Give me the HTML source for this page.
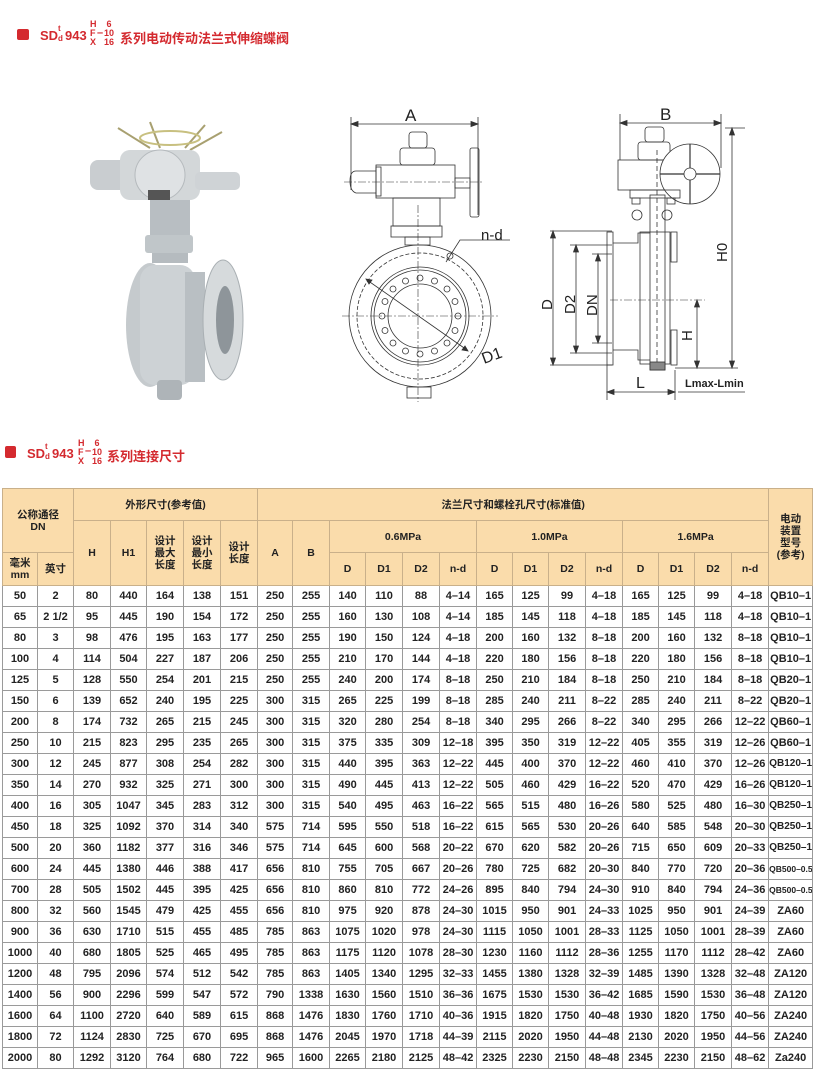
<!DOCTYPE html>
<html><head><meta charset="utf-8"><style>
body{margin:0;width:814px;height:1092px;background:#fff;position:relative;overflow:hidden;font-family:"Liberation Sans","Noto Sans CJK SC",sans-serif;}
.a{position:absolute;white-space:nowrap;}
.red{color:#d42a2f;font-weight:bold;}
table{position:absolute;left:2px;top:488px;border-collapse:collapse;table-layout:fixed;width:810px;}
td{border:1px solid #9a9a9a;text-align:center;padding:0;font-size:11px;font-weight:bold;color:#222;height:20px;line-height:12px;overflow:hidden;white-space:nowrap;}
thead td{background:#fadcab;border-color:#c9b08a;font-size:10.5px;white-space:normal;}
</style></head><body>

<div class="a" style="left:17px;top:29px;width:12px;height:11px;background:#d42a2f;border-radius:2px"></div>
<div class="a red" style="left:40px;top:28px;font-size:13px">SD</div>
<div class="a red" style="left:58px;top:24px;font-size:8px">t</div>
<div class="a red" style="left:58px;top:34px;font-size:8px">d</div>
<div class="a red" style="left:65px;top:28px;font-size:13px">943</div>
<div class="a red" style="left:90px;top:20px;font-size:9px;line-height:9px">H<br>F<br>X</div>
<div class="a red" style="left:97px;top:27px;font-size:11px">–</div>
<div class="a red" style="left:104px;top:20px;font-size:9px;line-height:9px;text-align:center">6<br>10<br>16</div>
<div class="a red" style="left:120px;top:28px;font-size:13px">系列电动传动法兰式伸缩蝶阀</div>

<div class="a" style="left:5px;top:446px;width:11px;height:12px;background:#d42a2f;border-radius:2px"></div>
<div class="a red" style="left:27px;top:446px;font-size:13px">SD</div>
<div class="a red" style="left:45px;top:442px;font-size:8px">t</div>
<div class="a red" style="left:45px;top:452px;font-size:8px">d</div>
<div class="a red" style="left:52px;top:446px;font-size:13px">943</div>
<div class="a red" style="left:78px;top:439px;font-size:9px;line-height:9px">H<br>F<br>X</div>
<div class="a red" style="left:85px;top:445px;font-size:11px">–</div>
<div class="a red" style="left:92px;top:439px;font-size:9px;line-height:9px;text-align:center">6<br>10<br>16</div>
<div class="a red" style="left:107px;top:446px;font-size:13px">系列连接尺寸</div>

<!-- photo -->
<svg class="a" style="left:0;top:0" width="814" height="430">
<g stroke="#a8a070" stroke-width="2"><line x1="118" y1="128" x2="150" y2="148"/><line x1="150" y1="122" x2="160" y2="148"/><line x1="205" y1="125" x2="185" y2="148"/><line x1="222" y1="132" x2="190" y2="150"/></g>
<ellipse cx="170" cy="138" rx="30" ry="7" fill="none" stroke="#c8c080" stroke-width="2"/>
<rect x="90" y="160" width="40" height="30" rx="8" fill="#c9cdd0"/>
<rect x="120" y="150" width="80" height="50" rx="10" fill="#d3d7d9"/>
<circle cx="160" cy="175" r="25" fill="#dfe2e4" stroke="#b5babd"/>
<rect x="195" y="172" width="45" height="18" rx="5" fill="#cfd3d6"/>
<rect x="148" y="190" width="22" height="10" fill="#555"/>
<rect x="150" y="200" width="40" height="40" fill="#b8bec2"/>
<rect x="145" y="235" width="48" height="18" rx="3" fill="#c0c6c9"/>
<rect x="152" y="253" width="36" height="10" fill="#b5bbbf"/>
<ellipse cx="150" cy="325" rx="24" ry="62" fill="#c5cacd"/>
<rect x="140" y="265" width="55" height="120" rx="15" fill="#cdd2d5"/>
<rect x="185" y="272" width="20" height="110" fill="#b9bfc3"/>
<ellipse cx="223" cy="320" rx="20" ry="60" fill="#d6dadc" stroke="#a9afb3"/>
<ellipse cx="225" cy="320" rx="9" ry="34" fill="#8e959a"/>
<rect x="157" y="380" width="25" height="20" rx="4" fill="#aeb4b8"/>
</svg>

<!-- front view -->
<svg class="a" style="left:0;top:0" width="814" height="430" fill="none" stroke="#333" stroke-width="0.8">
<line x1="351" y1="117" x2="351" y2="190"/><line x1="478" y1="117" x2="478" y2="215"/>
<line x1="354" y1="124" x2="475" y2="124"/>
<path d="M351 124 l7 -2.5 v5z M478 124 l-7 -2.5 v5z" fill="#333"/>
<text x="405" y="121" font-size="17" fill="#222" stroke="none" font-family="Liberation Sans">A</text>
<rect x="409" y="132" width="18" height="16" rx="3"/>
<rect x="400" y="148" width="35" height="17" rx="3"/>
<rect x="376" y="165" width="79" height="33"/>
<rect x="376" y="167" width="5" height="29"/>
<path d="M376 171 h-20 q-6 0 -6 10 q0 10 6 12 h20"/>
<rect x="455" y="178" width="15" height="10"/>
<rect x="470" y="148" width="9" height="69" rx="2"/>
<rect x="393" y="198" width="47" height="28"/>
<rect x="391" y="226" width="51" height="11"/>
<rect x="405" y="237" width="25" height="8"/>
<circle cx="420" cy="316" r="71"/>
<circle cx="420" cy="316" r="63" stroke-dasharray="4 2"/>
<circle cx="420" cy="316" r="49"/><circle cx="420" cy="316" r="46"/>
<circle cx="420" cy="316" r="32"/>
<g id="bh">
<circle cx="420" cy="278" r="3"/><circle cx="434.5" cy="281" r="3"/><circle cx="447" cy="289" r="3"/><circle cx="455" cy="301.5" r="3"/><circle cx="458" cy="316" r="3"/><circle cx="455" cy="330.5" r="3"/><circle cx="447" cy="343" r="3"/><circle cx="434.5" cy="351" r="3"/><circle cx="420" cy="354" r="3"/><circle cx="405.5" cy="351" r="3"/><circle cx="393" cy="343" r="3"/><circle cx="385" cy="330.5" r="3"/><circle cx="382" cy="316" r="3"/><circle cx="385" cy="301.5" r="3"/><circle cx="393" cy="289" r="3"/><circle cx="405.5" cy="281" r="3"/>
</g>
<rect x="407" y="387" width="24" height="11"/>
<line x1="418" y1="205" x2="418" y2="402" stroke-dasharray="8 2 2 2" stroke-width="0.6"/>
<line x1="342" y1="316" x2="498" y2="316" stroke-dasharray="8 2 2 2" stroke-width="0.6"/>
<line x1="344" y1="182" x2="482" y2="182" stroke-dasharray="8 2 2 2" stroke-width="0.6"/>
<path d="M510 240 h-50 l-14 22"/>
<circle cx="450" cy="256" r="3"/>
<text x="481" y="240" font-size="15" fill="#222" stroke="none" font-family="Liberation Sans">n-d</text>
<line x1="367" y1="280" x2="467" y2="350"/>
<path d="M366 279 l6 1 l-3 4z M468 351 l-6 -1 l3 -4z" fill="#333"/>
<text x="484" y="364" font-size="16" fill="#222" stroke="none" font-family="Liberation Sans" transform="rotate(-20 484 364)">D1</text>
</svg>

<!-- side view -->
<svg class="a" style="left:0;top:0" width="814" height="430" fill="none" stroke="#333" stroke-width="0.8">
<line x1="620" y1="114" x2="620" y2="160"/><line x1="721" y1="114" x2="721" y2="168"/>
<line x1="622" y1="123" x2="719" y2="123"/>
<path d="M620 123 l7 -2.5 v5z M721 123 l-7 -2.5 v5z" fill="#333"/>
<text x="660" y="120" font-size="17" fill="#222" stroke="none" font-family="Liberation Sans">B</text>
<line x1="725" y1="128" x2="745" y2="128"/>
<line x1="732" y1="130" x2="732" y2="366"/>
<path d="M732 128 l-2.5 7 h5z M732 368 l-2.5 -7 h5z" fill="#333"/>
<text x="727" y="262" font-size="15" fill="#222" stroke="none" font-family="Liberation Sans" transform="rotate(-90 727 262)">H0</text>
<rect x="645" y="127" width="19" height="15" rx="3"/>
<rect x="638" y="142" width="32" height="18" rx="3"/>
<rect x="618" y="160" width="72" height="30"/>
<circle cx="690" cy="174" r="30" fill="#fff"/>
<circle cx="690" cy="174" r="6"/>
<g stroke-width="1.2"><line x1="690" y1="144" x2="690" y2="168"/><line x1="660" y1="174" x2="684" y2="174"/><line x1="720" y1="174" x2="696" y2="174"/><line x1="690" y1="180" x2="690" y2="204"/></g>
<rect x="630" y="190" width="50" height="8"/>
<rect x="632" y="198" width="8" height="6"/><rect x="667" y="198" width="8" height="6"/>
<circle cx="637" cy="215" r="5"/><circle cx="667" cy="215" r="5"/>
<rect x="607" y="232" width="6" height="133"/>
<path d="M613 243 h25 v-10 h12 M613 350 h25 v10 h12"/>
<rect x="640" y="232" width="30" height="132"/>
<rect x="650" y="195" width="15" height="175"/>
<line x1="657" y1="150" x2="657" y2="370" stroke-dasharray="5 3"/>
<rect x="671" y="232" width="6" height="30"/><rect x="671" y="330" width="6" height="35"/>
<rect x="650" y="362" width="15" height="8" fill="#888"/>
<line x1="610" y1="300" x2="705" y2="300" stroke-dasharray="8 2 2 2" stroke-width="0.6"/>
<line x1="550" y1="231" x2="612" y2="231"/><line x1="550" y1="365" x2="612" y2="365"/>
<line x1="553" y1="233" x2="553" y2="363"/>
<path d="M553 231 l-2.5 7 h5z M553 365 l-2.5 -7 h5z" fill="#333"/>
<line x1="570" y1="245" x2="612" y2="245"/><line x1="570" y1="353" x2="612" y2="353"/>
<line x1="576" y1="247" x2="576" y2="351"/>
<path d="M576 245 l-2.5 7 h5z M576 353 l-2.5 -7 h5z" fill="#333"/>
<line x1="592" y1="254" x2="612" y2="254"/><line x1="592" y1="343" x2="612" y2="343"/>
<line x1="598" y1="256" x2="598" y2="341"/>
<path d="M598 254 l-2.5 7 h5z M598 343 l-2.5 -7 h5z" fill="#333"/>
<text x="552" y="310" font-size="15" fill="#222" stroke="none" font-family="Liberation Sans" transform="rotate(-90 552 310)">D</text>
<text x="575" y="314" font-size="15" fill="#222" stroke="none" font-family="Liberation Sans" transform="rotate(-90 575 314)">D2</text>
<text x="597" y="316" font-size="15" fill="#222" stroke="none" font-family="Liberation Sans" transform="rotate(-90 597 316)">DN</text>
<line x1="697" y1="302" x2="697" y2="366"/>
<path d="M697 300 l-2.5 7 h5z M697 368 l-2.5 -7 h5z" fill="#333"/>
<line x1="675" y1="368" x2="738" y2="368"/>
<text x="692" y="341" font-size="15" fill="#222" stroke="none" font-family="Liberation Sans" transform="rotate(-90 692 341)">H</text>
<line x1="607" y1="365" x2="607" y2="400"/><line x1="675" y1="370" x2="675" y2="400"/>
<line x1="609" y1="392" x2="673" y2="392"/>
<path d="M607 392 l7 -2.5 v5z M675 392 l-7 -2.5 v5z" fill="#333"/>
<line x1="678" y1="392" x2="745" y2="392"/>
<text x="636" y="388" font-size="16" fill="#222" stroke="none" font-family="Liberation Sans">L</text>
<text x="685" y="387" font-size="11" font-weight="bold" fill="#222" stroke="none" font-family="Liberation Sans">Lmax-Lmin</text>
</svg>

<table>
<colgroup><col style="width:35px"><col style="width:36px"><col style="width:37px"><col style="width:36px"><col style="width:37px"><col style="width:37px"><col style="width:37px"><col style="width:35px"><col style="width:37px"><col style="width:36px"><col style="width:37px"><col style="width:37px"><col style="width:37px"><col style="width:36px"><col style="width:36px"><col style="width:37px"><col style="width:37px"><col style="width:36px"><col style="width:36px"><col style="width:37px"><col style="width:37px"><col style="width:44px"></colgroup>
<thead>
<tr style="height:32px"><td colspan="2" rowspan="2">公称通径<br>DN</td><td colspan="5">外形尺寸(参考值)</td><td colspan="14">法兰尺寸和螺栓孔尺寸(标准值)</td><td rowspan="3">电动<br>装置<br>型号<br>(参考)</td></tr>
<tr style="height:32px"><td rowspan="2">H</td><td rowspan="2">H1</td><td rowspan="2">设计<br>最大<br>长度</td><td rowspan="2">设计<br>最小<br>长度</td><td rowspan="2">设计<br>长度</td><td rowspan="2">A</td><td rowspan="2">B</td><td colspan="4">0.6MPa</td><td colspan="4">1.0MPa</td><td colspan="4">1.6MPa</td></tr>
<tr style="height:33px"><td>毫米<br>mm</td><td>英寸</td><td>D</td><td>D1</td><td>D2</td><td>n-d</td><td>D</td><td>D1</td><td>D2</td><td>n-d</td><td>D</td><td>D1</td><td>D2</td><td>n-d</td></tr>
</thead>
<tbody>
<tr><td>50</td><td>2</td><td>80</td><td>440</td><td>164</td><td>138</td><td>151</td><td>250</td><td>255</td><td>140</td><td>110</td><td>88</td><td>4–14</td><td>165</td><td>125</td><td>99</td><td>4–18</td><td>165</td><td>125</td><td>99</td><td>4–18</td><td>QB10–1</td></tr>
<tr><td>65</td><td>2 1/2</td><td>95</td><td>445</td><td>190</td><td>154</td><td>172</td><td>250</td><td>255</td><td>160</td><td>130</td><td>108</td><td>4–14</td><td>185</td><td>145</td><td>118</td><td>4–18</td><td>185</td><td>145</td><td>118</td><td>4–18</td><td>QB10–1</td></tr>
<tr><td>80</td><td>3</td><td>98</td><td>476</td><td>195</td><td>163</td><td>177</td><td>250</td><td>255</td><td>190</td><td>150</td><td>124</td><td>4–18</td><td>200</td><td>160</td><td>132</td><td>8–18</td><td>200</td><td>160</td><td>132</td><td>8–18</td><td>QB10–1</td></tr>
<tr><td>100</td><td>4</td><td>114</td><td>504</td><td>227</td><td>187</td><td>206</td><td>250</td><td>255</td><td>210</td><td>170</td><td>144</td><td>4–18</td><td>220</td><td>180</td><td>156</td><td>8–18</td><td>220</td><td>180</td><td>156</td><td>8–18</td><td>QB10–1</td></tr>
<tr><td>125</td><td>5</td><td>128</td><td>550</td><td>254</td><td>201</td><td>215</td><td>250</td><td>255</td><td>240</td><td>200</td><td>174</td><td>8–18</td><td>250</td><td>210</td><td>184</td><td>8–18</td><td>250</td><td>210</td><td>184</td><td>8–18</td><td>QB20–1</td></tr>
<tr><td>150</td><td>6</td><td>139</td><td>652</td><td>240</td><td>195</td><td>225</td><td>300</td><td>315</td><td>265</td><td>225</td><td>199</td><td>8–18</td><td>285</td><td>240</td><td>211</td><td>8–22</td><td>285</td><td>240</td><td>211</td><td>8–22</td><td>QB20–1</td></tr>
<tr><td>200</td><td>8</td><td>174</td><td>732</td><td>265</td><td>215</td><td>245</td><td>300</td><td>315</td><td>320</td><td>280</td><td>254</td><td>8–18</td><td>340</td><td>295</td><td>266</td><td>8–22</td><td>340</td><td>295</td><td>266</td><td>12–22</td><td>QB60–1</td></tr>
<tr><td>250</td><td>10</td><td>215</td><td>823</td><td>295</td><td>235</td><td>265</td><td>300</td><td>315</td><td>375</td><td>335</td><td>309</td><td>12–18</td><td>395</td><td>350</td><td>319</td><td>12–22</td><td>405</td><td>355</td><td>319</td><td>12–26</td><td>QB60–1</td></tr>
<tr><td>300</td><td>12</td><td>245</td><td>877</td><td>308</td><td>254</td><td>282</td><td>300</td><td>315</td><td>440</td><td>395</td><td>363</td><td>12–22</td><td>445</td><td>400</td><td>370</td><td>12–22</td><td>460</td><td>410</td><td>370</td><td>12–26</td><td style="font-size:10px">QB120–1</td></tr>
<tr><td>350</td><td>14</td><td>270</td><td>932</td><td>325</td><td>271</td><td>300</td><td>300</td><td>315</td><td>490</td><td>445</td><td>413</td><td>12–22</td><td>505</td><td>460</td><td>429</td><td>16–22</td><td>520</td><td>470</td><td>429</td><td>16–26</td><td style="font-size:10px">QB120–1</td></tr>
<tr><td>400</td><td>16</td><td>305</td><td>1047</td><td>345</td><td>283</td><td>312</td><td>300</td><td>315</td><td>540</td><td>495</td><td>463</td><td>16–22</td><td>565</td><td>515</td><td>480</td><td>16–26</td><td>580</td><td>525</td><td>480</td><td>16–30</td><td style="font-size:10px">QB250–1</td></tr>
<tr><td>450</td><td>18</td><td>325</td><td>1092</td><td>370</td><td>314</td><td>340</td><td>575</td><td>714</td><td>595</td><td>550</td><td>518</td><td>16–22</td><td>615</td><td>565</td><td>530</td><td>20–26</td><td>640</td><td>585</td><td>548</td><td>20–30</td><td style="font-size:10px">QB250–1</td></tr>
<tr><td>500</td><td>20</td><td>360</td><td>1182</td><td>377</td><td>316</td><td>346</td><td>575</td><td>714</td><td>645</td><td>600</td><td>568</td><td>20–22</td><td>670</td><td>620</td><td>582</td><td>20–26</td><td>715</td><td>650</td><td>609</td><td>20–33</td><td style="font-size:10px">QB250–1</td></tr>
<tr><td>600</td><td>24</td><td>445</td><td>1380</td><td>446</td><td>388</td><td>417</td><td>656</td><td>810</td><td>755</td><td>705</td><td>667</td><td>20–26</td><td>780</td><td>725</td><td>682</td><td>20–30</td><td>840</td><td>770</td><td>720</td><td>20–36</td><td style="font-size:8.5px">QB500–0.5</td></tr>
<tr><td>700</td><td>28</td><td>505</td><td>1502</td><td>445</td><td>395</td><td>425</td><td>656</td><td>810</td><td>860</td><td>810</td><td>772</td><td>24–26</td><td>895</td><td>840</td><td>794</td><td>24–30</td><td>910</td><td>840</td><td>794</td><td>24–36</td><td style="font-size:8.5px">QB500–0.5</td></tr>
<tr><td>800</td><td>32</td><td>560</td><td>1545</td><td>479</td><td>425</td><td>455</td><td>656</td><td>810</td><td>975</td><td>920</td><td>878</td><td>24–30</td><td>1015</td><td>950</td><td>901</td><td>24–33</td><td>1025</td><td>950</td><td>901</td><td>24–39</td><td>ZA60</td></tr>
<tr><td>900</td><td>36</td><td>630</td><td>1710</td><td>515</td><td>455</td><td>485</td><td>785</td><td>863</td><td>1075</td><td>1020</td><td>978</td><td>24–30</td><td>1115</td><td>1050</td><td>1001</td><td>28–33</td><td>1125</td><td>1050</td><td>1001</td><td>28–39</td><td>ZA60</td></tr>
<tr><td>1000</td><td>40</td><td>680</td><td>1805</td><td>525</td><td>465</td><td>495</td><td>785</td><td>863</td><td>1175</td><td>1120</td><td>1078</td><td>28–30</td><td>1230</td><td>1160</td><td>1112</td><td>28–36</td><td>1255</td><td>1170</td><td>1112</td><td>28–42</td><td>ZA60</td></tr>
<tr><td>1200</td><td>48</td><td>795</td><td>2096</td><td>574</td><td>512</td><td>542</td><td>785</td><td>863</td><td>1405</td><td>1340</td><td>1295</td><td>32–33</td><td>1455</td><td>1380</td><td>1328</td><td>32–39</td><td>1485</td><td>1390</td><td>1328</td><td>32–48</td><td>ZA120</td></tr>
<tr><td>1400</td><td>56</td><td>900</td><td>2296</td><td>599</td><td>547</td><td>572</td><td>790</td><td>1338</td><td>1630</td><td>1560</td><td>1510</td><td>36–36</td><td>1675</td><td>1530</td><td>1530</td><td>36–42</td><td>1685</td><td>1590</td><td>1530</td><td>36–48</td><td>ZA120</td></tr>
<tr><td>1600</td><td>64</td><td>1100</td><td>2720</td><td>640</td><td>589</td><td>615</td><td>868</td><td>1476</td><td>1830</td><td>1760</td><td>1710</td><td>40–36</td><td>1915</td><td>1820</td><td>1750</td><td>40–48</td><td>1930</td><td>1820</td><td>1750</td><td>40–56</td><td>ZA240</td></tr>
<tr><td>1800</td><td>72</td><td>1124</td><td>2830</td><td>725</td><td>670</td><td>695</td><td>868</td><td>1476</td><td>2045</td><td>1970</td><td>1718</td><td>44–39</td><td>2115</td><td>2020</td><td>1950</td><td>44–48</td><td>2130</td><td>2020</td><td>1950</td><td>44–56</td><td>ZA240</td></tr>
<tr><td>2000</td><td>80</td><td>1292</td><td>3120</td><td>764</td><td>680</td><td>722</td><td>965</td><td>1600</td><td>2265</td><td>2180</td><td>2125</td><td>48–42</td><td>2325</td><td>2230</td><td>2150</td><td>48–48</td><td>2345</td><td>2230</td><td>2150</td><td>48–62</td><td>Za240</td></tr>
</tbody>
</table>
</body></html>
